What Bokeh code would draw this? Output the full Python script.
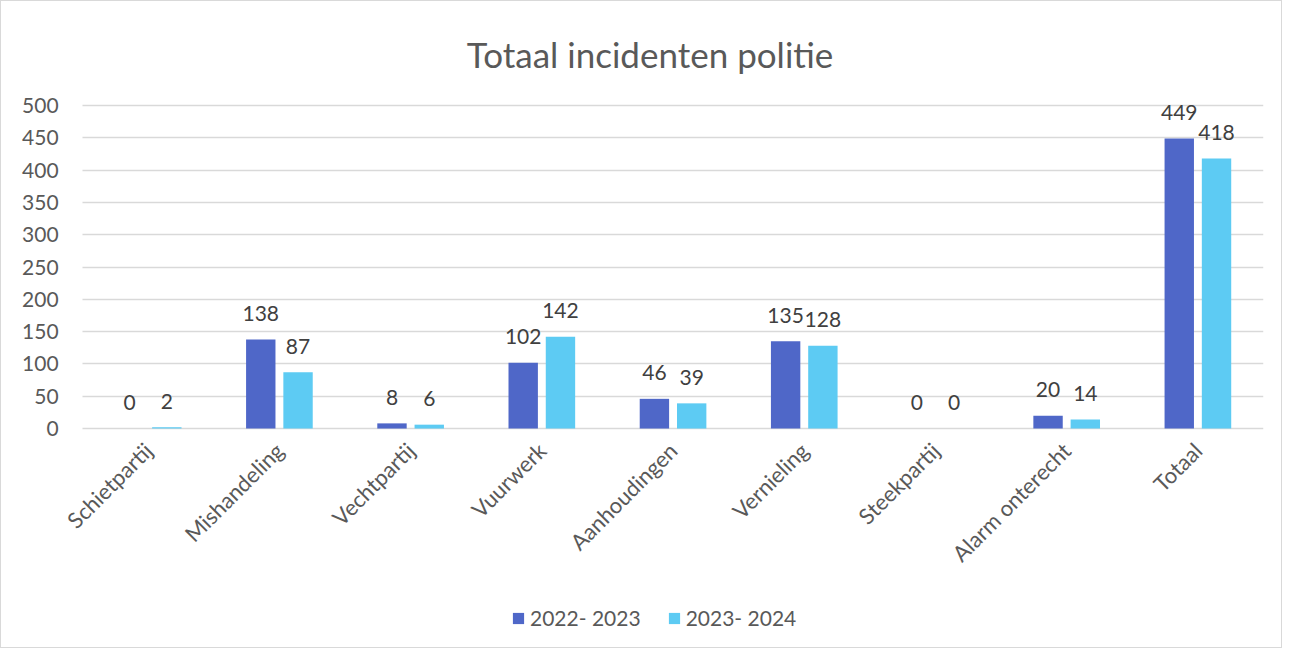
import math
from bokeh.plotting import figure
from bokeh.models import (ColumnDataSource, Range1d, LabelSet, Label, FixedTicker,
                          Legend, LegendItem)
from bokeh.core.properties import value
from bokeh.transform import dodge
from bokeh.embed import file_html
from bokeh.resources import INLINE

categories = ["Schietpartij", "Mishandeling", "Vechtpartij", "Vuurwerk", "Aanhoudingen",
              "Vernieling", "Steekpartij", "Alarm onterecht", "Totaal"]
series_2022 = [0, 138, 8, 102, 46, 135, 0, 20, 449]
series_2023 = [2, 87, 6, 142, 39, 128, 0, 14, 418]
series_names = ["2022- 2023", "2023- 2024"]
y_ticks = [0, 50, 100, 150, 200, 250, 300, 350, 400, 450, 500]
title_text = "Totaal incidenten politie"

DARK = "#4F67C8"
LIGHT = "#5DCBF3"
AXIS_TXT = "#595959"
LBL_TXT = "#404040"
GRID = "#d9d9d9"
FONT = "Lato"

n = len(categories)
xc = [i + 0.5 for i in range(n)]   # category centres on a numeric scale

src = ColumnDataSource(dict(
    xc=xc,
    a=series_2022,
    b=series_2023,
    a_txt=[str(v) for v in series_2022],
    b_txt=[str(v) for v in series_2023],
))

# the frame covers the whole chart box, so that title, rotated category
# labels, tick labels and legend are all drawn inside it
p = figure(title=None, x_range=Range1d(-0.618, n), y_range=Range1d(-342, 661),
           width=1282, height=648, output_backend="svg", toolbar_location=None,
           min_border_left=0, min_border_right=20, min_border_top=0, min_border_bottom=0)
p.styles = {"border": "1px solid #d9d9d9"}
p.outline_line_color = None
p.background_fill_color = "white"
p.border_fill_color = "white"

p.add_layout(Label(x=4.325, y=580.5, text=title_text, text_align="center",
                   text_baseline="middle", text_font=FONT, text_font_size="35px",
                   text_color=AXIS_TXT))

off = 0.142
bw = 0.224
ra = p.vbar(x=dodge("xc", -off), top="a", width=bw, source=src,
            fill_color=DARK, line_color=None)
rb = p.vbar(x=dodge("xc", off), top="b", width=bw, source=src,
            fill_color=LIGHT, line_color=None)

for col, txt, o in (("a", "a_txt", -off), ("b", "b_txt", off)):
    ls = LabelSet(x=dodge("xc", o), y=col, text=txt, source=src,
                  y_offset=26, text_align="center", text_baseline="middle",
                  text_font=value(FONT), text_font_size="21px", text_color=LBL_TXT)
    p.add_layout(ls)

# value axis, drawn at the left edge of the bar area
p.yaxis.fixed_location = 0
p.yaxis.ticker = FixedTicker(ticks=y_ticks)
p.yaxis.axis_line_color = None
p.yaxis.major_tick_line_color = None
p.yaxis.minor_tick_line_color = None
p.yaxis.major_label_text_font = FONT
p.yaxis.major_label_text_font_size = "21px"
p.yaxis.major_label_text_color = AXIS_TXT
p.yaxis.major_label_standoff = 18

# category axis at y = 0
overrides = {}
for x, c in zip(xc, categories):
    overrides[x] = c
    overrides[str(x)] = c
p.xaxis.fixed_location = 0
p.xaxis.bounds = (0, n)
p.xaxis.ticker = FixedTicker(ticks=xc)
p.xaxis.major_label_overrides = overrides
p.xaxis.axis_line_color = None
p.xaxis.major_tick_line_color = None
p.xaxis.minor_tick_line_color = None
p.xaxis.major_label_orientation = math.pi / 4
p.xaxis.major_label_text_font = FONT
p.xaxis.major_label_text_font_size = "22px"
p.xaxis.major_label_text_color = AXIS_TXT
p.xaxis.major_label_standoff = 12

p.xgrid.grid_line_color = None
p.ygrid.ticker = FixedTicker(ticks=y_ticks)
p.ygrid.grid_line_color = GRID
p.ygrid.grid_line_width = 1.3
try:
    p.ygrid.cross_bounds = (0, n)
except Exception:
    pass

legend = Legend(items=[LegendItem(label=series_names[0], renderers=[ra]),
                       LegendItem(label=series_names[1], renderers=[rb])],
                orientation="horizontal", location=(510, 19),
                glyph_width=14, glyph_height=14, label_standoff=5, spacing=26,
                padding=0, margin=0, border_line_color=None, background_fill_alpha=0,
                label_text_font=FONT, label_text_font_size="21px",
                label_text_color=AXIS_TXT)
p.add_layout(legend)

open("out.html", "w").write(file_html(p, INLINE))
